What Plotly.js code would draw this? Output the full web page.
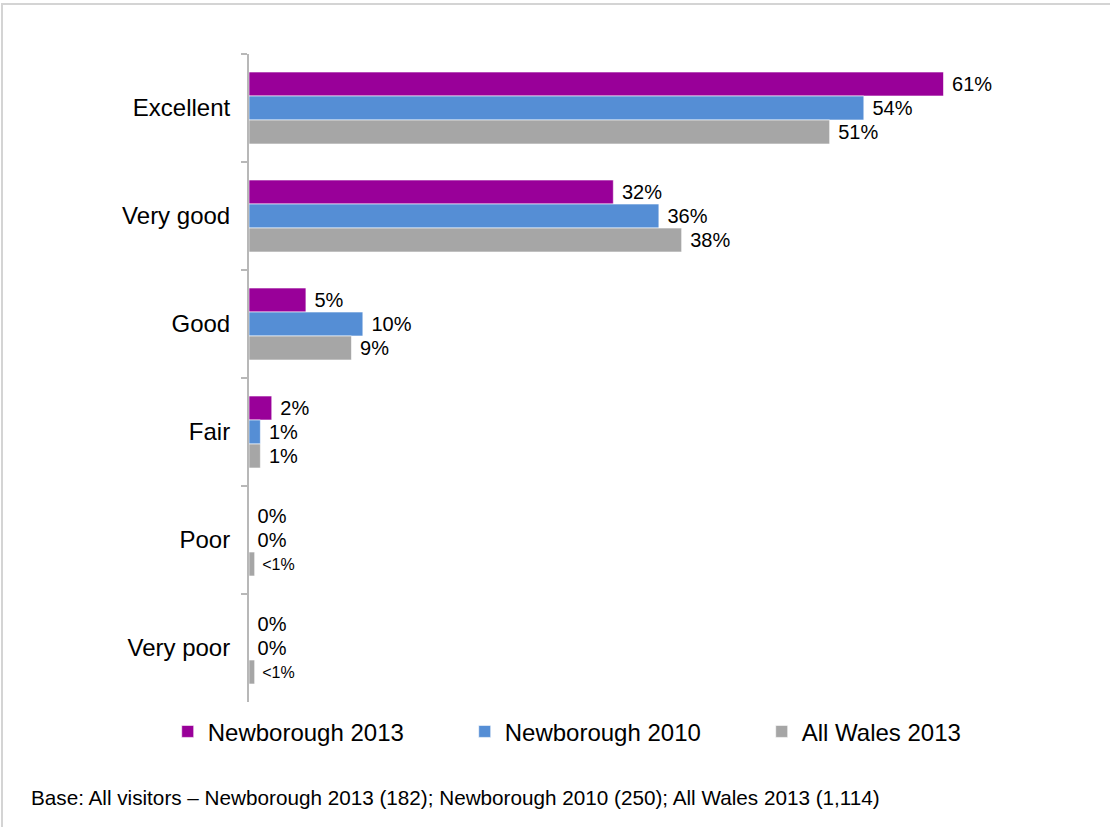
<!DOCTYPE html>
<html>
<head>
<meta charset="utf-8">
<script src="https://cdn.plot.ly/plotly-3.0.1.min.js"></script>
<style>
  html, body { margin: 0; padding: 0; background: #fff; }
  #wrap { position: relative; width: 1110px; height: 827px; overflow: hidden; }
  #chart { width: 1110px; height: 827px; }
  #frame { position: absolute; left: 1px; top: 3px; width: 1120px; height: 900px;
           border-top: 2px solid #d4d4d4; border-left: 2px solid #d4d4d4; pointer-events: none; }
</style>
</head>
<body>
<div id="wrap">
  <div id="chart"></div>
  <div id="frame"></div>
</div>
<script>
const categories = ["Excellent", "Very good", "Good", "Fair", "Poor", "Very poor"];
const seriesNames = ["Newborough 2013", "Newborough 2010", "All Wales 2013"];
const newborough2013 = [61, 32, 5, 2, 0, 0];
const newborough2010 = [54, 36, 10, 1, 0, 0];
const allWales2013 = [51, 38, 9, 1, 0.5, 0.5];
const labels2013 = ["61%", "32%", "5%", "2%", "0%", "0%"];
const labels2010 = ["54%", "36%", "10%", "1%", "0%", "0%"];
const labelsWales = ["51%", "38%", "9%", "1%", "<1%", "<1%"];
const footnote = "Base: All visitors \u2013 Newborough 2013 (182); Newborough 2010 (250); All Wales 2013 (1,114)";

const colors = ["#990099", "#558ED5", "#A6A6A6"];
const FONT = "Liberation Sans, Arial, sans-serif";

function mkTrace(name, vals, labs, color, sizes) {
  return {
    type: "bar",
    orientation: "h",
    name: name,
    y: categories,
    x: vals,
    text: labs.map(t => "\u00a0" + t),
    textposition: "outside",
    cliponaxis: false,
    textfont: { family: FONT, size: sizes || 20, color: "#000" },
    marker: { color: color, line: { color: "rgba(255,255,255,0.6)", width: 1 } },
    hoverinfo: "none"
  };
}

const data = [
  mkTrace(seriesNames[0], newborough2013, labels2013, colors[0]),
  mkTrace(seriesNames[1], newborough2010, labels2010, colors[1]),
  mkTrace(seriesNames[2], allWales2013, labelsWales, colors[2],
          labelsWales.map(t => t.startsWith("<") ? 16 : 20))
];

const layout = {
  width: 1110,
  height: 827,
  margin: { l: 249, r: 64, t: 54, b: 125 },
  paper_bgcolor: "#fff",
  plot_bgcolor: "#fff",
  barmode: "group",
  bargap: 1/3,
  bargroupgap: 0,
  font: { family: FONT, color: "#000" },
  xaxis: {
    range: [0, 70],
    visible: false,
    fixedrange: true
  },
  yaxis: {
    type: "category",
    autorange: "reversed",
    showline: true,
    linecolor: "#b8b8b8",
    linewidth: 2,
    ticks: "outside",
    tickson: "boundaries",
    ticklen: 6,
    tickcolor: "#b8b8b8",
    tickwidth: 1.5,
    showgrid: false,
    zeroline: false,
    ticklabelstandoff: 12,
    tickfont: { family: FONT, size: 24, color: "#000" }
  },
  showlegend: true,
  legend: {
    orientation: "h",
    x: -0.102,
    xanchor: "left",
    y: -0.046,
    yanchor: "middle",
    font: { family: FONT, size: 24, color: "#000" },
    entrywidth: 252,
    entrywidthmode: "pixels",
    itemwidth: 30,
    bgcolor: "rgba(0,0,0,0)"
  },
  annotations: [{
    xref: "paper", yref: "paper",
    x: (29 - 249) / 797, y: (702 - 797) / 648,
    xanchor: "left", yanchor: "middle",
    text: footnote,
    showarrow: false,
    font: { family: FONT, size: 20.7, color: "#000" }
  }]
};

Plotly.newPlot("chart", data, layout, { displayModeBar: false, staticPlot: true });
</script>
</body>
</html>
